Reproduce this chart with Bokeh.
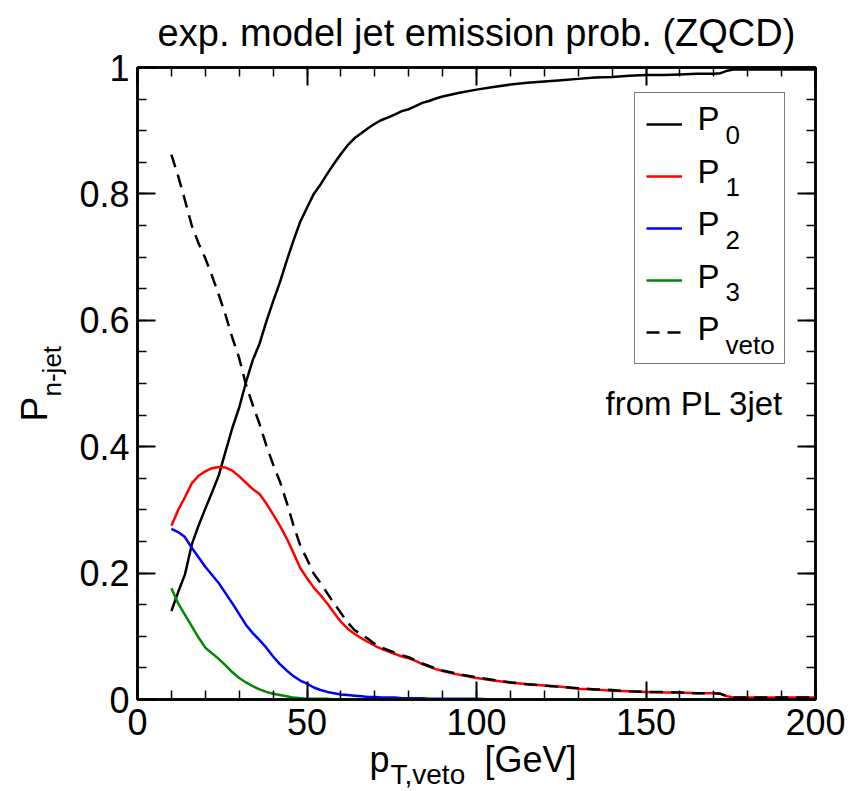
import math
from bokeh.plotting import figure
from bokeh.layouts import column, row
from bokeh.models import (ColumnDataSource, FixedTicker, LinearAxis, Label, Legend,
                          LegendItem, CustomJSTickFormatter, Range1d)
from bokeh.embed import file_html
from bokeh.resources import INLINE

# ---------------- data ----------------
pt = [10, 12, 14, 16, 18, 20, 22, 24, 26, 28, 30, 32, 34, 36, 38, 40, 42, 44, 46, 48,
      50, 52, 54, 56, 58, 60, 62, 64, 66, 68, 70, 72, 74, 76, 78, 80, 82, 84, 86, 88,
      90, 95, 100, 105, 110, 115, 120, 125, 130, 135, 140, 145, 150, 155, 160, 165,
      170, 172, 174, 176, 180, 185, 190, 195, 200]

p0 = [0.140, 0.170, 0.198, 0.245, 0.275, 0.302, 0.328, 0.355, 0.393, 0.430, 0.462, 0.502,
      0.537, 0.563, 0.598, 0.630, 0.660, 0.694, 0.726, 0.756, 0.778, 0.800, 0.815, 0.832,
      0.848, 0.863, 0.877, 0.888, 0.896, 0.904, 0.911, 0.917, 0.921, 0.926, 0.931, 0.934,
      0.939, 0.944, 0.947, 0.951, 0.954, 0.960, 0.965, 0.969, 0.973, 0.976, 0.978, 0.980,
      0.982, 0.984, 0.985, 0.987, 0.988, 0.988, 0.989, 0.990, 0.990, 0.991, 0.995, 0.997,
      0.997, 0.997, 0.997, 0.997, 0.997]

p1 = [0.275, 0.300, 0.320, 0.342, 0.354, 0.361, 0.366, 0.368, 0.367, 0.362, 0.353, 0.343,
      0.333, 0.325, 0.310, 0.293, 0.275, 0.255, 0.232, 0.208, 0.192, 0.177, 0.165, 0.152,
      0.137, 0.123, 0.112, 0.104, 0.097, 0.091, 0.085, 0.080, 0.076, 0.072, 0.068, 0.065,
      0.061, 0.056, 0.052, 0.048, 0.045, 0.039, 0.034, 0.030, 0.027, 0.024, 0.022, 0.020,
      0.017, 0.016, 0.014, 0.013, 0.012, 0.011, 0.011, 0.010, 0.010, 0.009, 0.005, 0.003,
      0.003, 0.003, 0.003, 0.003, 0.003]

p2 = [0.270, 0.265, 0.257, 0.240, 0.225, 0.210, 0.197, 0.184, 0.168, 0.152, 0.135, 0.118,
      0.105, 0.094, 0.082, 0.068, 0.056, 0.046, 0.037, 0.030, 0.025, 0.019, 0.015, 0.012,
      0.010, 0.008, 0.007, 0.006, 0.005, 0.004, 0.004, 0.003, 0.003, 0.003, 0.002, 0.002,
      0.002, 0.002, 0.001, 0.001, 0.001, 0.001, 0.001, 0.000, 0.000, 0.000, 0.000, 0.000,
      0.000, 0.000, 0.000, 0.000, 0.000, 0.000, 0.000, 0.000, 0.000, 0.000, 0.000, 0.000,
      0.000, 0.000, 0.000, 0.000, 0.000]

p3 = [0.176, 0.152, 0.134, 0.116, 0.098, 0.082, 0.073, 0.064, 0.054, 0.043, 0.034, 0.027,
      0.021, 0.016, 0.012, 0.009, 0.007, 0.005, 0.003, 0.002, 0.001, 0.001, 0.001, 0.001,
      0.000, 0.000, 0.000, 0.000, 0.000, 0.000, 0.000, 0.000, 0.000, 0.000, 0.000, 0.000,
      0.000, 0.000, 0.000, 0.000, 0.000, 0.000, 0.000, 0.000, 0.000, 0.000, 0.000, 0.000,
      0.000, 0.000, 0.000, 0.000, 0.000, 0.000, 0.000, 0.000, 0.000, 0.000, 0.000, 0.000,
      0.000, 0.000, 0.000, 0.000, 0.000]

pveto = [0.862, 0.828, 0.790, 0.750, 0.722, 0.698, 0.670, 0.640, 0.608, 0.572, 0.540, 0.498,
         0.466, 0.436, 0.402, 0.372, 0.345, 0.312, 0.276, 0.244, 0.222, 0.199, 0.184, 0.168,
         0.152, 0.137, 0.122, 0.110, 0.103, 0.096, 0.088, 0.082, 0.078, 0.074, 0.070, 0.067,
         0.062, 0.057, 0.053, 0.049, 0.046, 0.040, 0.035, 0.031, 0.027, 0.024, 0.022, 0.020,
         0.018, 0.016, 0.015, 0.013, 0.012, 0.012, 0.011, 0.010, 0.010, 0.009, 0.005, 0.003,
         0.003, 0.003, 0.003, 0.003, 0.003]

x_major = [0, 50, 100, 150, 200]
x_minor = list(range(0, 201, 10))
y_major = [0, 0.2, 0.4, 0.6, 0.8, 1]
y_minor = [i * 0.05 for i in range(21)]

series_names = ["0", "1", "2", "3", "veto"]
series_colors = ["#000000", "#ff0000", "#0000ff", "#008800", "#000000"]

TITLE = "exp. model jet emission prob. (ZQCD)"
NOTE = "from PL 3jet"

FONT = "Liberation Sans"


def text_fig(w, h, **kw):
    f = figure(width=w, height=h, output_backend="svg", toolbar_location=None, title=None,
               x_range=Range1d(0, w), y_range=Range1d(0, h),
               x_axis_location=None, y_axis_location=None,
               min_border_left=0, min_border_right=0, min_border_top=0, min_border_bottom=0,
               **kw)
    f.outline_line_color = None
    f.grid.visible = False
    f.background_fill_alpha = 0
    f.border_fill_alpha = 0
    return f


def lab(fig, x, y, text, size, **kw):
    fig.add_layout(Label(x=x, y=y, x_units="screen", y_units="screen", text=text,
                         text_font=FONT, text_font_size=size, text_color="black",
                         text_baseline="alphabetic", **kw))


# ---------------- main figure ----------------
p = figure(width=790, height=704, output_backend="svg", toolbar_location=None, title=None,
           x_range=Range1d(0, 200), y_range=Range1d(0, 1),
           min_border_left=65, min_border_right=47, min_border_top=23, min_border_bottom=49,
           x_axis_location=None, y_axis_location=None)
p.background_fill_color = "white"
p.border_fill_alpha = 0
p.outline_line_color = "black"
p.outline_line_width = 2.5
p.grid.visible = False

src = ColumnDataSource(dict(pt=pt, p0=p0, p1=p1, p2=p2, p3=p3, pveto=pveto))

r0 = p.line("pt", "p0", source=src, line_color=series_colors[0], line_width=2.5)
r1 = p.line("pt", "p1", source=src, line_color=series_colors[1], line_width=2.5)
r2 = p.line("pt", "p2", source=src, line_color=series_colors[2], line_width=2.5)
r3 = p.line("pt", "p3", source=src, line_color=series_colors[3], line_width=2.5)
rv = p.line("pt", "pveto", source=src, line_color=series_colors[4], line_width=2.5,
            line_dash="13 8")

yfmt = CustomJSTickFormatter(code="return tick == 0 ? '0' : (tick == 1 ? '1' : tick.toFixed(1));")


def style_axis(ax, show_labels):
    ax.axis_line_width = 2.5
    ax.axis_line_color = "black"
    ax.major_tick_in = 18
    ax.major_tick_out = 0
    ax.minor_tick_in = 9
    ax.minor_tick_out = 0
    ax.major_tick_line_width = 2
    ax.minor_tick_line_width = 1.5
    ax.major_tick_line_color = "black"
    ax.minor_tick_line_color = "black"
    ax.major_label_text_font = FONT
    ax.major_label_text_color = "black"
    if show_labels:
        ax.major_label_text_font_size = "36px"
    else:
        ax.major_label_text_font_size = "1px"
        ax.major_label_text_alpha = 0
        ax.major_label_standoff = 0


xb = LinearAxis(ticker=FixedTicker(ticks=x_major, minor_ticks=x_minor))
style_axis(xb, True)
xb.major_label_standoff = 9
p.add_layout(xb, "below")

xt = LinearAxis(ticker=FixedTicker(ticks=x_major, minor_ticks=x_minor))
style_axis(xt, False)
p.add_layout(xt, "above")

yl = LinearAxis(ticker=FixedTicker(ticks=y_major, minor_ticks=y_minor), formatter=yfmt)
style_axis(yl, True)
yl.major_label_standoff = 8
p.add_layout(yl, "left")

yr = LinearAxis(ticker=FixedTicker(ticks=y_major, minor_ticks=y_minor))
style_axis(yr, False)
p.add_layout(yr, "right")

# legend: line samples and frame; the P_n texts are labels drawn over it
legend = Legend(items=[LegendItem(label=" ", renderers=[r]) for r in (r0, r1, r2, r3, rv)],
                location=(497, 335), padding=11, spacing=12, margin=0,
                glyph_width=36, glyph_height=40, label_height=40, label_width=91,
                label_standoff=0, border_line_color="black", border_line_width=1.2,
                background_fill_alpha=0.0, label_text_font_size="1px", label_text_alpha=0)
p.add_layout(legend, "center")

P_BASE = [581, 528.5, 476, 423.5, 371]   # frame coords of the "P" anchors
for name, yb in zip(series_names, P_BASE):
    lab(p, 560, yb, "P", "33px", text_align="left")
    lab(p, 588, yb - 16, name, "26px", text_align="left")

lab(p, 646, 296, NOTE, "33px", text_align="right")

# ---------------- title strip ----------------
t_fig = text_fig(862, 56)
lab(t_fig, 476, 24, TITLE, "38px", text_align="center")

# ---------------- y-axis title strip (frame aligned with the main frame) ----------------
y_fig = text_fig(72, 704)
lab(y_fig, 34, 278, "P", "37px", text_align="left", angle=math.pi / 2)
lab(y_fig, 51, 303, "n-jet", "26px", text_align="left", angle=math.pi / 2)

# ---------------- x-axis title strip (slightly overlapping, transparent) ----------------
x_fig = text_fig(862, 53, margin=(-10, 0, 0, 0))
lab(x_fig, 369, 32, "p", "36px", text_align="left")
lab(x_fig, 390, 17, "T,veto", "28px", text_align="left")
lab(x_fig, 484, 32, "[GeV]", "36px", text_align="left")

layout = column(t_fig, row(y_fig, p, margin=(-12, 0, 0, 0)), x_fig)

open("out.html", "w").write(file_html(layout, INLINE))
